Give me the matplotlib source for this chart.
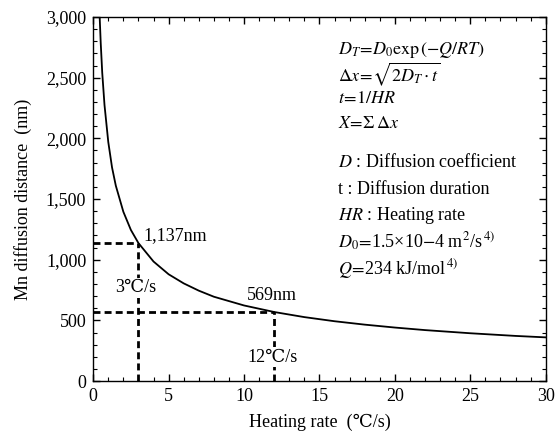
import matplotlib
matplotlib.use('Agg')
import matplotlib.pyplot as plt
from matplotlib.ticker import MultipleLocator, FuncFormatter

plt.rcParams['font.family'] = ['Liberation Serif', 'DejaVu Serif']
plt.rcParams['mathtext.fontset'] = 'stix'
plt.rcParams['font.size'] = 13

# Datos
heating_rate = [0.43, 0.5, 0.6, 0.75, 1, 1.25, 1.5, 2, 2.5, 3, 4, 5, 6, 7, 8,
                10, 12, 14, 16, 18, 20, 22, 25, 28, 30]
distance = [3000, 2785, 2540, 2275, 1970, 1760, 1610, 1395, 1245, 1137, 985,
            880, 805, 745, 695, 623, 569, 527, 493, 465, 441, 420, 394, 372, 360]

# puntos marcados
mark_hr = [3, 12]
mark_dist = [1137, 569]
mark_dist_labels = ['1,137nm', '569nm']
mark_hr_labels = ['3℃/s', '12℃/s']

notes = [
    r'$D_T\!=\!D_0\mathrm{exp}\,(-Q/RT)$',
    r'$\Delta x\!=\!\sqrt{2D_T\cdot t}$',
    r'$t\!=\!1/HR$',
    r'$X\!=\!\Sigma\,\mathit{\Delta} x$',
    r'$D$ : Diffusion coefficient',
    't : Diffusion duration',
    r'$HR$ : Heating rate',
    r'$D_0\!=\!$1.5×10$-$4 m$^2$/s$^{\,4)}$',
    r'$Q\!=\!$234 kJ/mol$^{\,4)}$',
]
notes_y = [2732, 2530, 2328, 2126, 1805, 1582, 1368, 1146, 923]

fig = plt.figure(figsize=(5.58, 4.36), dpi=100)
ax = fig.add_axes([0.167, 0.126, 0.811, 0.835])

ax.plot(heating_rate, distance, color='black', lw=1.3)

dash = dict(color='black', lw=2, dashes=(2.5, 1.5))
for hr, d in zip(mark_hr, mark_dist):
    ax.plot([0, hr], [d, d], **dash)
    ax.plot([hr, hr], [0, d], **dash)

ax.text(3.3, 1200, mark_dist_labels[0], va='center', ha='left')
ax.text(10.2, 709, mark_dist_labels[1], va='center', ha='left')
box = dict(facecolor='white', edgecolor='none', pad=1)
ax.text(2.85, 767, mark_hr_labels[0], va='center', ha='center', bbox=box)
ax.text(11.9, 198, mark_hr_labels[1], va='center', ha='center', bbox=box)

for s, y in zip(notes, notes_y):
    ax.text(16.2, y, s, va='center', ha='left')

ax.set_xlim(0, 30)
ax.set_ylim(0, 3000)
ax.xaxis.set_major_locator(MultipleLocator(5))
ax.xaxis.set_minor_locator(MultipleLocator(1))
ax.yaxis.set_major_locator(MultipleLocator(500))
ax.yaxis.set_minor_locator(MultipleLocator(100))
ax.yaxis.set_major_formatter(FuncFormatter(lambda v, p: f'{int(v):,}'))
ax.tick_params(which='both', direction='in', top=True, right=True)
ax.tick_params(which='major', length=5, width=1, pad=5)
ax.tick_params(which='minor', length=3, width=0.8)
for sp in ax.spines.values():
    sp.set_linewidth(1)

ax.set_xlabel('Heating rate  (℃/s)', labelpad=6)
ax.set_ylabel('Mn diffusion distance  (nm)', labelpad=10)

fig.savefig('out.png', dpi=100)
